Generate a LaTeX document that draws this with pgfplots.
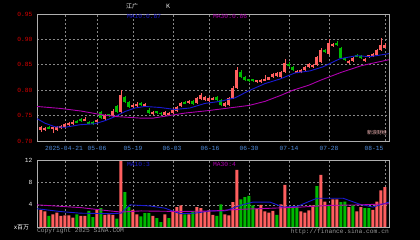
\documentclass[border=0pt]{standalone}
\usepackage{pgfplots}
\pgfplotsset{compat=1.18}
\usepackage{pgfplotstable}
\usepackage{fontspec}
\setmainfont{Liberation Sans}
\setmonofont{Liberation Mono}
\newfontfamily\cjk{Noto Sans CJK SC}
\definecolor{cred}{RGB}{255,95,95}
\definecolor{cgreen}{RGB}{0,185,0}
\definecolor{tickred}{RGB}{215,0,0}
\definecolor{dateblue}{RGB}{80,140,220}
\definecolor{mablue}{RGB}{25,25,210}
\definecolor{mapurple}{RGB}{175,0,175}
\definecolor{gridc}{RGB}{135,135,135}
\definecolor{framec}{RGB}{175,175,175}
\definecolor{copyc}{RGB}{150,150,150}

\pgfplotstableread{
x v
0 3.1
1 2.8
3 2.3
4 2.6
5 2.0
6 2.1
7 2.1
8 1.7
10 2.0
11 2.0
14 3.1
16 2.2
17 2.3
18 2.2
20 11.9
23 3.1
24 2.3
28 2.0
31 2.3
33 2.8
34 3.6
35 3.9
37 2.3
39 3.6
40 3.4
41 2.8
42 3.0
43 2.2
46 2.3
47 2.1
48 4.5
49 10.3
54 3.3
55 4.0
56 2.8
57 2.6
58 2.9
60 4.1
61 7.6
65 2.8
66 2.6
67 3.0
68 3.9
70 9.4
71 4.6
73 5.0
74 5.0
77 3.6
79 2.8
80 3.6
83 3.1
84 4.6
85 6.6
86 7.2
}\redv

\pgfplotstableread{
x v
2 2.0
9 2.3
12 2.9
13 1.8
15 3.4
19 1.5
21 6.3
22 3.6
25 1.9
26 2.5
27 2.5
29 1.6
30 0.9
32 1.6
36 2.3
38 2.8
44 2.0
45 4.1
50 5.0
51 5.4
52 5.6
53 3.9
59 2.2
62 3.6
63 3.6
64 3.6
69 7.4
72 4.0
75 4.5
76 4.6
78 3.9
81 3.4
82 3.4
}\greenv

\pgfplotsset{
  chartbase/.style={
    scale only axis, width=352bp, anchor=south west,
    xmin=-1, xmax=87,
    axis line style={framec, line width=0.8bp},
    xtick={6,14,23,33,42,52,62,72,86}, xticklabels={},
    major tick length=0pt,
    grid=major,
    grid style={gridc, dash pattern=on 2bp off 2bp, line width=0.7bp},
    yticklabel style={font=\ttfamily\fontsize{6.3}{6.3}\selectfont, anchor=east, xshift=-1bp},
  },
  wick/.style={#1, line width=0.8bp, unbounded coords=jump, mark=none, forget plot},
  body/.style={#1, line width=3bp, line cap=butt, unbounded coords=jump, mark=none, forget plot},
}

\begin{document}
\begin{tikzpicture}[x=1bp,y=1bp]
\fill[black] (0,0) rectangle (420,240);
\useasboundingbox (0,0) rectangle (420,240);

% ---------- price panel ----------
\begin{axis}[chartbase, at={(37bp,99bp)}, height=127bp,
  ymin=0.70, ymax=0.95,
  ytick={0.70,0.75,0.80,0.85,0.90,0.95},
  yticklabels={0.70,0.75,0.80,0.85,0.90,0.95},
  yticklabel style={text=tickred}]
% red wicks (low, high)
\addplot[wick=cred] coordinates {
(0,0.718)(0,0.730)(0,nan) (1,0.720)(1,0.728)(1,nan) (3,0.716)(3,0.728)(3,nan)
(4,0.720)(4,0.729)(4,nan) (5,0.723)(5,0.732)(5,nan) (6,0.726)(6,0.735)(6,nan)
(7,0.729)(7,0.738)(7,nan) (8,0.732)(8,0.741)(8,nan) (11,0.739)(11,0.748)(11,nan)
(14,0.735)(14,0.744)(14,nan) (16,0.742)(16,0.753)(16,nan) (18,0.748)(18,0.763)(18,nan)
(20,0.755)(20,0.800)(20,nan) (23,0.765)(23,0.773)(23,nan) (24,0.767)(24,0.776)(24,nan)
(26,0.767)(26,0.774)(26,nan) (28,0.752)(28,0.760)(28,nan) (31,0.750)(31,0.759)(31,nan)
(32,0.751)(32,0.758)(32,nan) (33,0.753)(33,0.764)(33,nan) (34,0.758)(34,0.769)(34,nan)
(35,0.766)(35,0.776)(35,nan) (37,0.773)(37,0.781)(37,nan) (39,0.773)(39,0.787)(39,nan)
(40,0.780)(40,0.794)(40,nan) (41,0.778)(41,0.788)(41,nan) (42,0.777)(42,0.786)(42,nan)
(43,0.780)(43,0.786)(43,nan) (46,0.766)(46,0.776)(46,nan) (47,0.768)(47,0.786)(47,nan)
(48,0.783)(48,0.808)(48,nan) (49,0.803)(49,0.845)(49,nan) (54,0.815)(54,0.821)(54,nan)
(55,0.815)(55,0.823)(55,nan) (56,0.818)(56,0.830)(56,nan) (57,0.820)(57,0.826)(57,nan)
(58,0.824)(58,0.833)(58,nan) (59,0.826)(59,0.835)(59,nan) (60,0.824)(60,0.837)(60,nan)
(61,0.834)(61,0.862)(61,nan) (64,0.833)(64,0.839)(64,nan) (65,0.833)(65,0.842)(65,nan)
(66,0.838)(66,0.848)(66,nan) (67,0.843)(67,0.854)(67,nan) (68,0.844)(68,0.851)(68,nan)
(69,0.848)(69,0.867)(69,nan) (70,0.853)(70,0.883)(70,nan) (72,0.870)(72,0.901)(72,nan)
(73,0.886)(73,0.892)(73,nan) (77,0.851)(77,0.860)(77,nan) (78,0.856)(78,0.865)(78,nan)
(81,0.856)(81,0.864)(81,nan) (82,0.864)(82,0.870)(82,nan) (83,0.866)(83,0.874)(83,nan)
(84,0.868)(84,0.882)(84,nan) (85,0.878)(85,0.903)(85,nan) (86,0.883)(86,0.893)(86,nan)};
% green wicks (low, high)
\addplot[wick=cgreen] coordinates {
(2,0.723)(2,0.729)(2,nan) (9,0.735)(9,0.742)(9,nan) (10,0.738)(10,0.746)(10,nan)
(12,0.733)(12,0.740)(12,nan) (13,0.732)(13,0.739)(13,nan) (15,0.743)(15,0.760)(15,nan)
(17,0.747)(17,0.754)(17,nan) (19,0.756)(19,0.771)(19,nan) (21,0.775)(21,0.789)(21,nan)
(22,0.765)(22,0.779)(22,nan) (25,0.769)(25,0.776)(25,nan) (27,0.753)(27,0.765)(27,nan)
(29,0.753)(29,0.760)(29,nan) (30,0.751)(30,0.758)(30,nan) (36,0.772)(36,0.778)(36,nan)
(38,0.771)(38,0.781)(38,nan) (44,0.778)(44,0.788)(44,nan) (45,0.768)(45,0.782)(45,nan)
(50,0.824)(50,0.839)(50,nan) (51,0.818)(51,0.828)(51,nan) (52,0.817)(52,0.823)(52,nan)
(53,0.817)(53,0.823)(53,nan) (62,0.846)(62,0.855)(62,nan) (63,0.838)(63,0.848)(63,nan)
(71,0.873)(71,0.882)(71,nan) (74,0.887)(74,0.896)(74,nan) (75,0.861)(75,0.886)(75,nan)
(76,0.857)(76,0.864)(76,nan) (79,0.865)(79,0.871)(79,nan) (80,0.862)(80,0.870)(80,nan)};
% red bodies (open, close)
\addplot[body=cred] coordinates {
(0,0.722)(0,0.727)(0,nan) (1,0.722)(1,0.726)(1,nan) (3,0.723)(3,0.727)(3,nan)
(4,0.722)(4,0.727)(4,nan) (5,0.725)(5,0.730)(5,nan) (6,0.728)(6,0.733)(6,nan)
(7,0.731)(7,0.736)(7,nan) (8,0.734)(8,0.738)(8,nan) (11,0.740)(11,0.744)(11,nan)
(14,0.737)(14,0.742)(14,nan) (16,0.744)(16,0.751)(16,nan) (18,0.750)(18,0.760)(18,nan)
(20,0.757)(20,0.790)(20,nan) (23,0.767)(23,0.771)(23,nan) (24,0.769)(24,0.773)(24,nan)
(26,0.768)(26,0.772)(26,nan) (28,0.754)(28,0.758)(28,nan) (31,0.752)(31,0.757)(31,nan)
(32,0.752)(32,0.756)(32,nan) (33,0.755)(33,0.762)(33,nan) (34,0.760)(34,0.767)(34,nan)
(35,0.768)(35,0.774)(35,nan) (37,0.775)(37,0.779)(37,nan) (39,0.775)(39,0.785)(39,nan)
(40,0.782)(40,0.790)(40,nan) (41,0.780)(41,0.786)(41,nan) (42,0.779)(42,0.784)(42,nan)
(43,0.781)(43,0.785)(43,nan) (46,0.768)(46,0.774)(46,nan) (47,0.770)(47,0.784)(47,nan)
(48,0.785)(48,0.805)(48,nan) (49,0.805)(49,0.840)(49,nan) (54,0.816)(54,0.820)(54,nan)
(55,0.817)(55,0.821)(55,nan) (56,0.819)(56,0.823)(56,nan) (57,0.821)(57,0.825)(57,nan)
(58,0.826)(58,0.831)(58,nan) (59,0.828)(59,0.833)(59,nan) (60,0.826)(60,0.835)(60,nan)
(61,0.836)(61,0.853)(61,nan) (64,0.834)(64,0.838)(64,nan) (65,0.835)(65,0.840)(65,nan)
(66,0.840)(66,0.846)(66,nan) (67,0.845)(67,0.852)(67,nan) (68,0.845)(68,0.849)(68,nan)
(69,0.850)(69,0.865)(69,nan) (70,0.855)(70,0.880)(70,nan) (72,0.872)(72,0.892)(72,nan)
(73,0.887)(73,0.891)(73,nan) (77,0.853)(77,0.858)(77,nan) (78,0.858)(78,0.863)(78,nan)
(81,0.858)(81,0.862)(81,nan) (82,0.865)(82,0.869)(82,nan) (83,0.868)(83,0.872)(83,nan)
(84,0.870)(84,0.880)(84,nan) (85,0.880)(85,0.888)(85,nan) (86,0.884)(86,0.888)(86,nan)};
% green bodies (close, open)
\addplot[body=cgreen] coordinates {
(2,0.724)(2,0.728)(2,nan) (9,0.736)(9,0.740)(9,nan) (10,0.739)(10,0.743)(10,nan)
(12,0.734)(12,0.738)(12,nan) (13,0.733)(13,0.737)(13,nan) (15,0.745)(15,0.757)(15,nan)
(17,0.749)(17,0.753)(17,nan) (19,0.758)(19,0.768)(19,nan) (21,0.777)(21,0.786)(21,nan)
(22,0.767)(22,0.777)(22,nan) (25,0.770)(25,0.774)(25,nan) (27,0.755)(27,0.762)(27,nan)
(29,0.755)(29,0.759)(29,nan) (30,0.753)(30,0.756)(30,nan) (36,0.773)(36,0.777)(36,nan)
(38,0.773)(38,0.779)(38,nan) (44,0.780)(44,0.786)(44,nan) (45,0.770)(45,0.780)(45,nan)
(50,0.826)(50,0.836)(50,nan) (51,0.820)(51,0.826)(51,nan) (52,0.818)(52,0.822)(52,nan)
(53,0.818)(53,0.822)(53,nan) (62,0.848)(62,0.852)(62,nan) (63,0.840)(63,0.846)(63,nan)
(71,0.875)(71,0.880)(71,nan) (74,0.888)(74,0.892)(74,nan) (75,0.863)(75,0.884)(75,nan)
(76,0.859)(76,0.863)(76,nan) (79,0.866)(79,0.870)(79,nan) (80,0.864)(80,0.868)(80,nan)};
% MA10
\addplot[mablue, line width=0.9bp] coordinates {
(-1,0.744) (1,0.735) (3.5,0.728) (6,0.727) (9.75,0.732) (13.5,0.734) (16,0.740)
(18.5,0.748) (21,0.758) (23.5,0.765) (26,0.768) (29.75,0.766) (33.5,0.762)
(37.25,0.765) (41,0.774) (44.75,0.778) (48.5,0.785) (52.25,0.800) (56,0.813)
(59.75,0.822) (63.5,0.834) (67.25,0.838) (70.5,0.846) (74.75,0.862) (79,0.868)
(82.25,0.866) (87,0.872)};
% MA30
\addplot[mapurple, line width=0.9bp] coordinates {
(-1,0.768) (5,0.764) (10,0.759) (15,0.752) (19,0.748) (25,0.745) (28,0.745)
(32,0.750) (36,0.755) (42,0.760) (48,0.766) (52,0.770) (56,0.778) (60,0.790)
(63,0.800) (67,0.810) (70,0.820) (75,0.835) (80,0.848) (84,0.855) (87,0.860)};
\end{axis}

% ---------- volume panel ----------
\begin{axis}[chartbase, at={(37bp,13bp)}, height=67bp,
  ymin=0, ymax=12.1,
  ytick={4,8,12}, yticklabels={4,8,12},
  yticklabel style={text=white!85!gray}]
\addplot[ybar, bar width=3bp, bar shift=0pt, fill=cred, draw=none] table[x=x,y=v] {\redv};
\addplot[ybar, bar width=3bp, bar shift=0pt, fill=cgreen, draw=none] table[x=x,y=v] {\greenv};
\addplot[mablue, line width=0.9bp] coordinates {
(-1,3.3) (4.75,2.8) (9.75,2.5) (17.25,2.4) (20,2.5) (22.25,4.0) (27.25,3.8)
(31,3.4) (34.75,2.4) (38.5,2.5) (42.25,2.9) (46,2.9) (49.75,3.9) (53,4.5)
(57.25,4.5) (60.5,3.6) (64,3.7) (69,5.2) (75.5,5.2) (79.75,4.1) (83,3.6) (87,4.5)};
\addplot[mapurple, line width=0.9bp] coordinates {
(-1,4.0) (10,3.5) (16,3.0) (20,2.7) (25,2.9) (35,2.8) (43,2.9) (50,3.2)
(58,3.4) (65,3.6) (72,3.9) (80,4.0) (87,4.2)};
\end{axis}

% ---------- texts ----------
\begin{scope}[every node/.style={font=\ttfamily\fontsize{6.3}{6.3}\selectfont, inner sep=0pt}]
\node[text=dateblue] at (64,92) {2025-04-21};
\node[text=dateblue] at (97,92) {05-06};
\node[text=dateblue] at (133,92) {05-19};
\node[text=dateblue] at (172,92) {06-03};
\node[text=dateblue] at (210,92) {06-16};
\node[text=dateblue] at (249,92) {06-30};
\node[text=dateblue] at (289,92) {07-14};
\node[text=dateblue] at (329,92) {07-28};
\node[text=dateblue] at (374,92) {08-15};
\node[text=mablue, anchor=west] at (127,223.5) {MA10:0.87};
\node[text=mapurple, anchor=west] at (213,223.5) {MA30:0.86};
\node[text=mablue, anchor=west] at (127,75.5) {MA10:3};
\node[text=mapurple, anchor=west] at (213,75.5) {MA30:4};
\node[text=copyc, anchor=west] at (37,9) {Copyright 2025 SINA.COM};
\node[text=copyc, anchor=east] at (389,8) {http://finance.sina.com.cn};
\end{scope}
\node[text=white, font=\cjk\fontsize{6}{6}\selectfont, inner sep=0pt, anchor=west] at (14,12.5) {x百万};
\node[text=white, font=\cjk\fontsize{6}{6}\selectfont, inner sep=0pt, anchor=west] at (126,233.5) {江广};
\node[text=white, font=\cjk\fontsize{6}{6}\selectfont, inner sep=0pt, anchor=west] at (166,233.5) {K};
\node[text=cred!40!white, font=\cjk\fontsize{5}{5}\selectfont, inner sep=0pt] at (377,107) {新浪财经};
\end{tikzpicture}
\end{document}
